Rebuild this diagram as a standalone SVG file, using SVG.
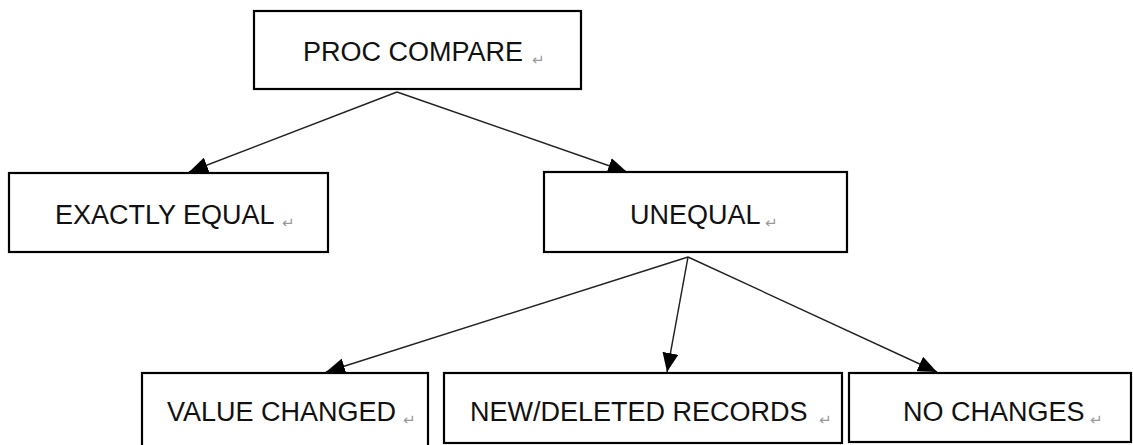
<svg xmlns="http://www.w3.org/2000/svg" width="1133" height="445" viewBox="0 0 1133 445">
<style>
.box{fill:#fff;stroke:#000;stroke-width:2.2}
.lbl{font-family:"Liberation Sans",Arial,sans-serif;font-size:27px;fill:#111}
.ret{font-family:"DejaVu Sans",sans-serif;font-size:15px;fill:#999}
.con{stroke:#222;stroke-width:1.4;fill:none}
</style>
<defs>
<marker id="arr" markerUnits="userSpaceOnUse" markerWidth="19" markerHeight="16" refX="19" refY="8" orient="auto">
<path d="M0,0 L19,8 L0,16 z" fill="#000"/>
</marker>
</defs>
<rect width="1133" height="445" fill="#fff"/>
<g id="connectors">
<line class="con" x1="397" y1="92" x2="189" y2="172" marker-end="url(#arr)"/>
<line class="con" x1="397" y1="92" x2="627" y2="172" marker-end="url(#arr)"/>
<line class="con" x1="688" y1="257" x2="667" y2="372" marker-end="url(#arr)"/>
<line class="con" x1="688" y1="257" x2="326" y2="372" marker-end="url(#arr)"/>
<line class="con" x1="688" y1="257" x2="937" y2="372" marker-end="url(#arr)"/>
</g>
<g id="proc-compare">
<rect class="box" x="254" y="11" width="327" height="78"/>
<text class="lbl" x="303" y="61">PROC COMPARE</text>
<text class="ret" x="532" y="65">↵</text>
</g>
<g id="exactly-equal">
<rect class="box" x="9" y="173" width="319" height="79"/>
<text class="lbl" x="55" y="224">EXACTLY EQUAL</text>
<text class="ret" x="282" y="228">↵</text>
</g>
<g id="unequal">
<rect class="box" x="544" y="172" width="303" height="80"/>
<text class="lbl" x="630" y="224">UNEQUAL</text>
<text class="ret" x="765" y="228">↵</text>
</g>
<g id="value-changed">
<rect class="box" x="142" y="373" width="286" height="80"/>
<text class="lbl" x="167" y="421">VALUE CHANGED</text>
<text class="ret" x="403" y="425">↵</text>
</g>
<g id="new-deleted-records">
<rect class="box" x="444" y="373" width="398" height="70"/>
<text class="lbl" x="470" y="421">NEW/DELETED RECORDS</text>
<text class="ret" x="819" y="425">↵</text>
</g>
<g id="no-changes">
<rect class="box" x="849" y="373" width="282" height="69"/>
<text class="lbl" x="903" y="421">NO CHANGES</text>
<text class="ret" x="1090" y="425">↵</text>
</g>
</svg>
